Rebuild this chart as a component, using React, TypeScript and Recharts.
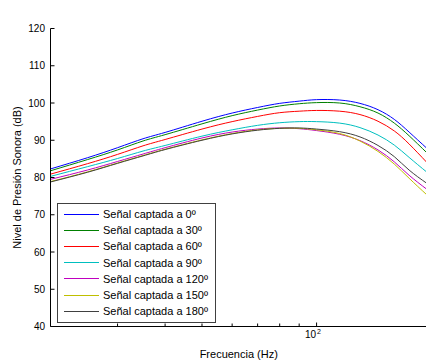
import React from 'react';
import { LineChart, Line, XAxis, YAxis, Legend } from 'recharts';

const freqs = [20, 25, 30, 35, 40, 50, 60, 70, 80, 90, 100, 115, 130, 145, 160, 175, 195];
const s0 = [82.3, 85.3, 88.0, 90.4, 92.1, 95.1, 97.3, 98.8, 99.9, 100.5, 100.9, 100.8, 99.9, 98.2, 95.6, 92.2, 87.8];
const s30 = [81.8, 84.8, 87.4, 89.8, 91.5, 94.4, 96.6, 98.1, 99.2, 99.8, 100.1, 100.0, 99.0, 97.3, 94.6, 91.2, 86.6];
const s60 = [80.9, 83.7, 86.2, 88.5, 90.2, 93.0, 95.0, 96.4, 97.4, 97.8, 98.0, 97.8, 96.9, 95.1, 92.5, 89.0, 84.0];
const s90 = [80.3, 82.9, 85.1, 87.1, 88.6, 91.1, 92.8, 94.0, 94.7, 95.0, 95.0, 94.6, 93.4, 91.4, 88.7, 85.4, 81.4];
const s120 = [79.5, 82.0, 84.3, 86.3, 88.0, 90.6, 92.2, 93.0, 93.3, 93.1, 92.6, 91.6, 89.9, 87.4, 84.2, 80.6, 76.8];
const s150 = [78.9, 81.5, 83.9, 85.9, 87.6, 90.1, 91.8, 92.8, 93.2, 93.2, 92.8, 91.8, 89.8, 87.0, 83.6, 79.8, 75.3];
const s180 = [78.8, 81.4, 83.8, 85.8, 87.5, 90.0, 91.7, 92.7, 93.2, 93.3, 93.0, 92.3, 90.9, 88.6, 85.6, 82.0, 78.4];

const seriesNames = [
  'Señal captada a 0º',
  'Señal captada a 30º',
  'Señal captada a 60º',
  'Señal captada a 90º',
  'Señal captada a 120º',
  'Señal captada a 150º',
  'Señal captada a 180º',
];
const seriesValues = [s0, s30, s60, s90, s120, s150, s180];
const seriesColors = ['#0000FF', '#008000', '#FF0000', '#00BFBF', '#BF00BF', '#BFBF00', '#404040'];

const xTicks = [30, 40, 50, 60, 70, 80, 90, 100];
const yTicks = [40, 50, 60, 70, 80, 90, 100, 110, 120];

const title = 'Sensibilidad del altavoz de simulación';
const xLabel = 'Frecuencia (Hz)';
const yLabel = 'Nivel de Presión Sonora (dB)';

const data = freqs.map((f, i) => {
  const row: Record<string, number> = { f };
  seriesValues.forEach((vals, k) => {
    row['s' + k] = vals[i];
  });
  return row;
});

const FONT = '"Liberation Sans", Arial, Helvetica, sans-serif';

const LeftTick = (props: any) => {
  const { x, y, payload } = props;
  return (
    <g>
      <line x1={x} x2={x + 4} y1={y} y2={y} stroke="#000" strokeWidth={1} />
      <text x={x - 5.5} y={y} dy={3.5} textAnchor="end" fontSize={10} fontFamily={FONT} fill="#000">
        {payload.value}
      </text>
    </g>
  );
};

const RightTick = (props: any) => {
  const { x, y } = props;
  return <line x1={x - 4} x2={x} y1={y} y2={y} stroke="#000" strokeWidth={1} />;
};

const BottomTick = (props: any) => {
  const { x, y, payload } = props;
  const major = payload.value === 100;
  return (
    <g>
      <line x1={x} x2={x} y1={y} y2={y - (major ? 4 : 3)} stroke="#000" strokeWidth={1} />
      {major && (
        <g fontFamily={FONT} fill="#000">
          <text x={x - 0.5} y={y + 11} textAnchor="end" fontSize={10}>
            10
          </text>
          <text x={x + 0.5} y={y + 7} textAnchor="start" fontSize={7}>
            2
          </text>
        </g>
      )}
    </g>
  );
};

const TopTick = (props: any) => {
  const { x, y, payload } = props;
  const major = payload.value === 100;
  return <line x1={x} x2={x} y1={y} y2={y + (major ? 4 : 3)} stroke="#000" strokeWidth={1} />;
};

const LegendBox = () => (
  <div
    style={{
      border: '1px solid #404040',
      background: '#fff',
      width: 157,
      padding: '2px 0 3px 0',
      fontFamily: FONT,
      fontSize: 11,
      color: '#000',
      boxSizing: 'content-box',
    }}
  >
    {seriesNames.map((name, k) => (
      <div key={name} style={{ display: 'flex', alignItems: 'center', height: 16.2, whiteSpace: 'nowrap' }}>
        <div style={{ width: 6, flex: 'none' }} />
        <div style={{ width: 35, height: 1, background: seriesColors[k], flex: 'none' }} />
        <div style={{ width: 4, flex: 'none' }} />
        <span>{name}</span>
      </div>
    ))}
  </div>
);

export default function App() {
  return (
    <div
      style={{
        position: 'absolute',
        left: 0,
        top: 0,
        width: 426,
        height: 362,
        overflow: 'hidden',
        background: '#fff',
      }}
    >
      <LineChart
        width={428}
        height={362}
        data={data}
        margin={{ top: 28.5, right: 1, bottom: 5.5, left: 10.5 }}
      >
        <XAxis
          xAxisId={0}
          dataKey="f"
          type="number"
          scale="log"
          domain={[20, 195]}
          allowDataOverflow
          ticks={xTicks}
          interval={0}
          tickSize={0}
          tickMargin={0}
          height={30}
          axisLine={{ stroke: '#000' }}
          tickLine={false}
          tick={<BottomTick />}
          label={{
            content: (p: any) => {
              const vb = p.viewBox;
              return (
                <text
                  x={vb.x + vb.width / 2}
                  y={vb.y + 31.5}
                  textAnchor="middle"
                  fontSize={11}
                  fontFamily={FONT}
                  fill="#000"
                >
                  {xLabel}
                </text>
              );
            },
          }}
        />
        <XAxis
          xAxisId="top"
          orientation="top"
          dataKey="f"
          type="number"
          scale="log"
          domain={[20, 195]}
          allowDataOverflow
          ticks={xTicks}
          interval={0}
          tickSize={0}
          tickMargin={0}
          height={0}
          axisLine={{ stroke: '#000' }}
          tickLine={false}
          tick={<TopTick />}
          label={{
            content: (p: any) => {
              const vb = p.viewBox;
              return (
                <text
                  x={vb.x + vb.width / 2}
                  y={vb.y - 8.5}
                  textAnchor="middle"
                  fontSize={11}
                  fontFamily={FONT}
                  fill="#000"
                >
                  {title}
                </text>
              );
            },
          }}
        />
        <YAxis
          yAxisId={0}
          type="number"
          domain={[40, 120]}
          allowDataOverflow
          ticks={yTicks}
          interval={0}
          width={40}
          tickSize={0}
          tickMargin={0}
          axisLine={{ stroke: '#000' }}
          tickLine={false}
          tick={<LeftTick />}
          label={{
            content: (p: any) => {
              const vb = p.viewBox;
              return (
                <text
                  transform={`translate(${vb.x + 10.5},${vb.y + vb.height / 2}) rotate(-90)`}
                  textAnchor="middle"
                  fontSize={11}
                  fontFamily={FONT}
                  fill="#000"
                >
                  {yLabel}
                </text>
              );
            },
          }}
        />
        <YAxis
          yAxisId="right"
          orientation="right"
          type="number"
          domain={[40, 120]}
          allowDataOverflow
          ticks={yTicks}
          interval={0}
          width={0}
          tickSize={0}
          tickMargin={0}
          axisLine={{ stroke: '#000' }}
          tickLine={false}
          tick={<RightTick />}
        />
        {seriesNames.map((name, k) => (
          <Line
            key={name}
            name={name}
            xAxisId={0}
            yAxisId={0}
            dataKey={'s' + k}
            type="natural"
            stroke={seriesColors[k]}
            strokeWidth={1}
            dot={false}
            activeDot={false}
            isAnimationActive={false}
          />
        ))}
        <Legend
          layout="vertical"
          align="center"
          verticalAlign="middle"
          content={<LegendBox />}
          wrapperStyle={{ position: 'absolute', left: 57, top: 203, width: 'auto', height: 'auto' }}
        />
      </LineChart>
    </div>
  );
}
